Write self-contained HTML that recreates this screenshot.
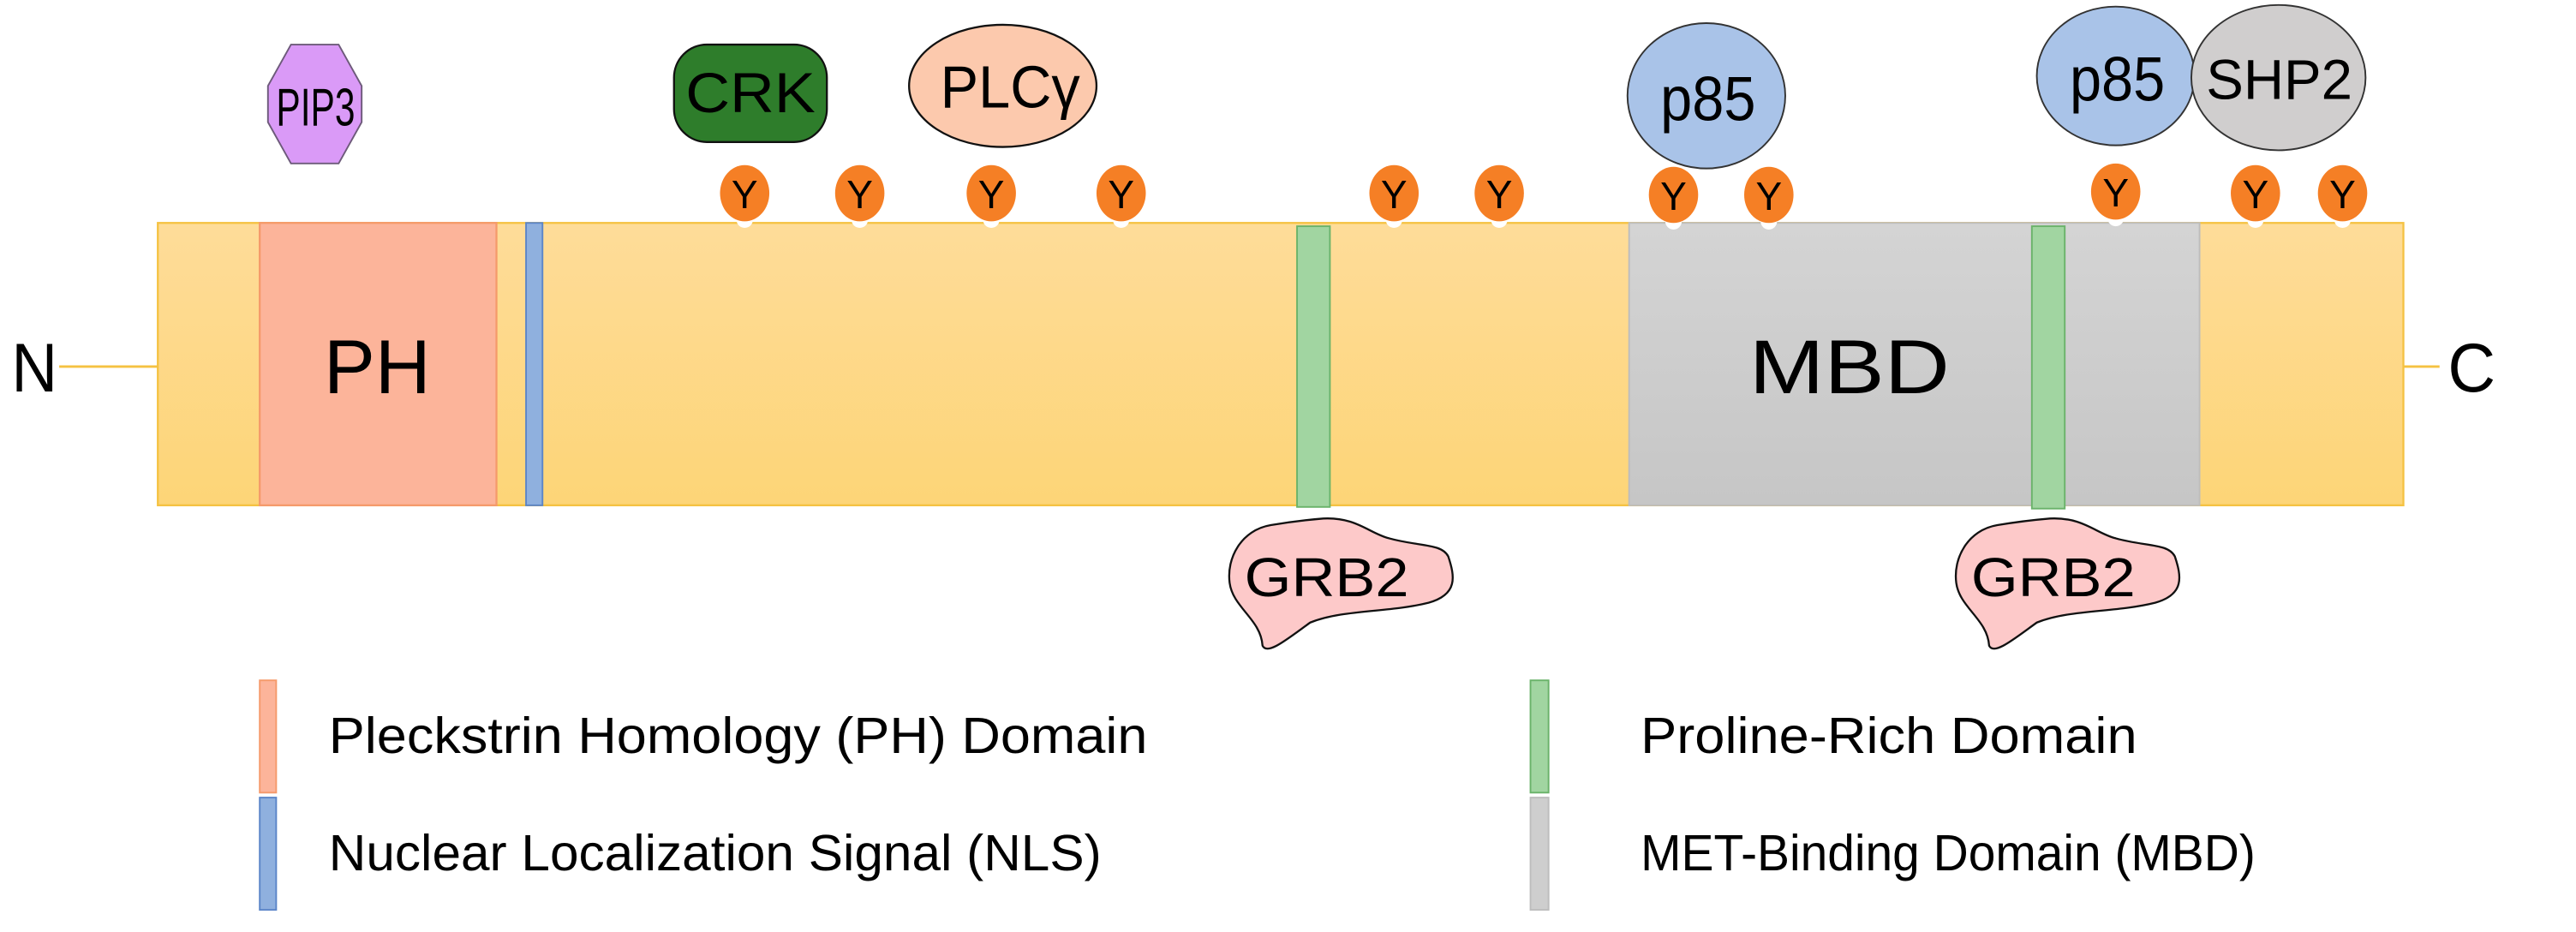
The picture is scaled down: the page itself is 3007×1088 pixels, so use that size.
<!DOCTYPE html>
<html><head><meta charset="utf-8"><style>
html,body{margin:0;padding:0;background:#fff;}
svg{display:block;}
text{font-family:"Liberation Sans",Arial,sans-serif;fill:#000;}
</style></head><body>
<svg width="3007" height="1088" viewBox="0 0 1567 564.4" preserveAspectRatio="none" xmlns="http://www.w3.org/2000/svg">
<defs>
<linearGradient id="gy" x1="0" y1="0" x2="0" y2="1"><stop offset="0" stop-color="#fedc99"/><stop offset="1" stop-color="#fdd577"/></linearGradient>
<linearGradient id="gg" x1="0" y1="0" x2="0" y2="1"><stop offset="0" stop-color="#d4d4d4"/><stop offset="1" stop-color="#c6c6c6"/></linearGradient>
</defs>
<line x1="36" y1="222" x2="96" y2="222" stroke="#f5c242" stroke-width="1.5"/>
<line x1="1462" y1="222" x2="1484" y2="222" stroke="#f5c242" stroke-width="1.5"/>
<text x="7" y="237" font-size="42" textLength="28" lengthAdjust="spacingAndGlyphs">N</text>
<text x="1489" y="237" font-size="42" textLength="29" lengthAdjust="spacingAndGlyphs">C</text>
<rect x="96" y="135" width="1366" height="171" fill="url(#gy)" stroke="#f5c242" stroke-width="1.2"/>
<rect x="158" y="135" width="144" height="171" fill="#fcb49a" stroke="#f59a6b" stroke-width="1.2"/>
<rect x="320" y="135" width="10" height="171" fill="#8fb0de" stroke="#5b85c8" stroke-width="1"/>
<rect x="991" y="135" width="347" height="171" fill="url(#gg)" stroke="#bdbdbd" stroke-width="1"/>
<rect x="789" y="137" width="20" height="170" fill="#a1d5a1" stroke="#6ab36a" stroke-width="1"/>
<rect x="1236" y="137" width="20" height="171" fill="#a1d5a1" stroke="#6ab36a" stroke-width="1"/>
<text x="197" y="238" font-size="46" textLength="65" lengthAdjust="spacingAndGlyphs">PH</text>
<text x="1064" y="238" font-size="46" textLength="122" lengthAdjust="spacingAndGlyphs">MBD</text>
<polygon points="177,27 206,27 220,52 220,74 206,99 177,99 163,74 163,52" fill="#da9af7" stroke="#6d5a7a" stroke-width="1"/>
<text x="168" y="76" font-size="32" textLength="48" lengthAdjust="spacingAndGlyphs">PIP3</text>
<rect x="410" y="27" width="93" height="59" rx="20" fill="#2e7d2b" stroke="#111" stroke-width="1.2"/>
<text x="417" y="68" font-size="34" textLength="79" lengthAdjust="spacingAndGlyphs">CRK</text>
<ellipse cx="610" cy="52" rx="57" ry="37" fill="#fcc9ad" stroke="#111" stroke-width="1.2"/>
<text x="572" y="65" font-size="36" textLength="85" lengthAdjust="spacingAndGlyphs">PLCγ</text>
<ellipse cx="1038" cy="58" rx="48" ry="44" fill="#a9c3e8" stroke="#333" stroke-width="1"/>
<text x="1010" y="73" font-size="38" textLength="58" lengthAdjust="spacingAndGlyphs">p85</text>
<ellipse cx="1287" cy="46" rx="48" ry="42" fill="#a9c3e8" stroke="#333" stroke-width="1"/>
<text x="1259" y="61" font-size="38" textLength="58" lengthAdjust="spacingAndGlyphs">p85</text>
<ellipse cx="1386" cy="47" rx="53" ry="44" fill="#d0cece" stroke="#333" stroke-width="1"/>
<text x="1342" y="60" font-size="34" textLength="89" lengthAdjust="spacingAndGlyphs">SHP2</text>
<g font-size="24" text-anchor="middle">
<g transform="translate(453,0)"><circle cx="0" cy="133" r="5" fill="#fff"/><ellipse cx="0" cy="117" rx="15" ry="17" fill="#f57f25"/><text x="0" y="126">Y</text></g>
<g transform="translate(523,0)"><circle cx="0" cy="133" r="5" fill="#fff"/><ellipse cx="0" cy="117" rx="15" ry="17" fill="#f57f25"/><text x="0" y="126">Y</text></g>
<g transform="translate(603,0)"><circle cx="0" cy="133" r="5" fill="#fff"/><ellipse cx="0" cy="117" rx="15" ry="17" fill="#f57f25"/><text x="0" y="126">Y</text></g>
<g transform="translate(682,0)"><circle cx="0" cy="133" r="5" fill="#fff"/><ellipse cx="0" cy="117" rx="15" ry="17" fill="#f57f25"/><text x="0" y="126">Y</text></g>
<g transform="translate(848,0)"><circle cx="0" cy="133" r="5" fill="#fff"/><ellipse cx="0" cy="117" rx="15" ry="17" fill="#f57f25"/><text x="0" y="126">Y</text></g>
<g transform="translate(912,0)"><circle cx="0" cy="133" r="5" fill="#fff"/><ellipse cx="0" cy="117" rx="15" ry="17" fill="#f57f25"/><text x="0" y="126">Y</text></g>
<g transform="translate(1018,0)"><circle cx="0" cy="134" r="5" fill="#fff"/><ellipse cx="0" cy="118" rx="15" ry="17" fill="#f57f25"/><text x="0" y="127">Y</text></g>
<g transform="translate(1076,0)"><circle cx="0" cy="134" r="5" fill="#fff"/><ellipse cx="0" cy="118" rx="15" ry="17" fill="#f57f25"/><text x="0" y="127">Y</text></g>
<g transform="translate(1287,0)"><circle cx="0" cy="132" r="5" fill="#fff"/><ellipse cx="0" cy="116" rx="15" ry="17" fill="#f57f25"/><text x="0" y="125">Y</text></g>
<g transform="translate(1372,0)"><circle cx="0" cy="133" r="5" fill="#fff"/><ellipse cx="0" cy="117" rx="15" ry="17" fill="#f57f25"/><text x="0" y="126">Y</text></g>
<g transform="translate(1425,0)"><circle cx="0" cy="133" r="5" fill="#fff"/><ellipse cx="0" cy="117" rx="15" ry="17" fill="#f57f25"/><text x="0" y="126">Y</text></g>
</g>
<g transform="translate(745,313)">
<path d="M28,5 C10,8 1,25 3,40 C5,55 22,62 23,78 C26,84 38,74 52,64 C72,56 100,58 124,52 C142,47 140,36 136,24 C132,16 118,18 100,13 C88,10 80,0 60,1 C48,2 40,3 28,5Z" fill="#fdc9c9" stroke="#111" stroke-width="1.2"/>
<text x="12" y="48" font-size="33" textLength="100" lengthAdjust="spacingAndGlyphs">GRB2</text>
</g>
<g transform="translate(1187,313)">
<path d="M28,5 C10,8 1,25 3,40 C5,55 22,62 23,78 C26,84 38,74 52,64 C72,56 100,58 124,52 C142,47 140,36 136,24 C132,16 118,18 100,13 C88,10 80,0 60,1 C48,2 40,3 28,5Z" fill="#fdc9c9" stroke="#111" stroke-width="1.2"/>
<text x="12" y="48" font-size="33" textLength="100" lengthAdjust="spacingAndGlyphs">GRB2</text>
</g>
<rect x="158" y="412" width="10" height="68" fill="#fcb49a" stroke="#f59a6b" stroke-width="1"/>
<rect x="158" y="483" width="10" height="68" fill="#8fb0de" stroke="#5b85c8" stroke-width="1"/>
<rect x="931" y="412" width="11" height="68" fill="#a1d5a1" stroke="#6ab36a" stroke-width="1"/>
<rect x="931" y="483" width="11" height="68" fill="#cecece" stroke="#bdbdbd" stroke-width="1"/>
<g font-size="31">
<text x="200" y="456" textLength="498" lengthAdjust="spacingAndGlyphs">Pleckstrin Homology (PH) Domain</text>
<text x="200" y="527" textLength="470" lengthAdjust="spacingAndGlyphs">Nuclear Localization Signal (NLS)</text>
<text x="998" y="456" textLength="302" lengthAdjust="spacingAndGlyphs">Proline-Rich Domain</text>
<text x="998" y="527" textLength="374" lengthAdjust="spacingAndGlyphs">MET-Binding Domain (MBD)</text>
</g>
</svg>
</body></html>
